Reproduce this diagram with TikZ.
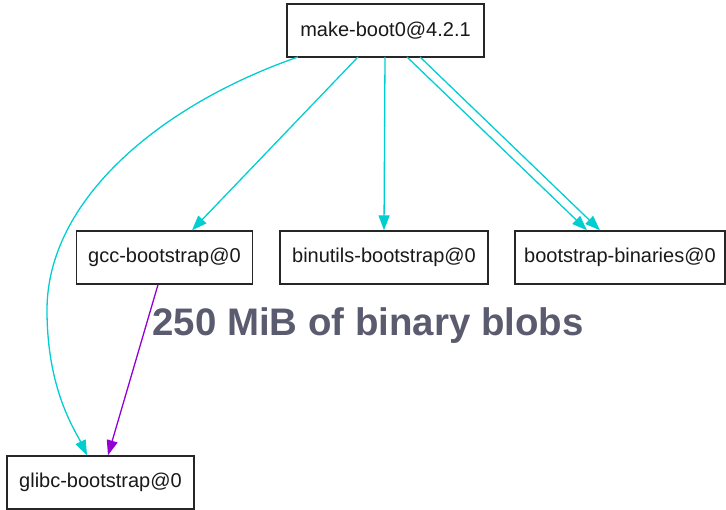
\documentclass[tikz,border=0pt]{standalone}
\usepackage{fontspec}
\setmainfont{Liberation Sans}
\usetikzlibrary{arrows.meta}
\definecolor{edgecyan}{HTML}{00CED1}
\definecolor{edgeviolet}{HTML}{9400D3}
\definecolor{blobgray}{HTML}{5A5B6E}
\tikzset{
  pkg/.style={draw=black!85, line width=1.4pt, fill=white, inner sep=0pt, font=\fontsize{20}{24}\selectfont, text=black!90},
  dep/.style={draw=edgecyan, line width=1.3pt, -{Triangle[length=15pt,width=11pt]}},
  dep2/.style={draw=edgeviolet, line width=1.3pt, -{Triangle[length=15pt,width=11pt]}},
}
\begin{document}
\begin{tikzpicture}[x=1pt,y=-1pt]
\useasboundingbox (0,0) rectangle (726,510);
\node[pkg, minimum width=197pt, minimum height=53pt] (make) at (385.5,30.5) {make-boot0@4.2.1};
\node[pkg, minimum width=176pt, minimum height=53pt] (gcc) at (164.5,257.5) {gcc-bootstrap@0};
\node[pkg, minimum width=208pt, minimum height=53pt] (binu) at (384,257.5) {binutils-bootstrap@0};
\node[pkg, minimum width=210pt, minimum height=53pt] (bbin) at (620,257.5) {bootstrap-binaries@0};
\node[pkg, minimum width=187pt, minimum height=53pt] (glibc) at (100.5,482.5) {glibc-bootstrap@0};
\node[font=\bfseries\fontsize{38.4}{44}\selectfont, text=blobgray] (blobs) at (368,326) {250 MiB of binary blobs};
\coordinate (m1) at (298,57);
\coordinate (m2) at (358,57);
\coordinate (m3) at (385,57);
\coordinate (m4) at (407,57);
\coordinate (m5) at (420,57);
\coordinate (c1) at (47,310);
\draw[dep] (m1) .. controls (160,105) and (47,200) .. (c1) .. controls (47,390) and (75,430) .. (glibc.north -| 87,0);
\draw[dep] (m2) -- (gcc.north -| 192,0);
\draw[dep] (m3) -- (binu.north -| 384,0);
\draw[dep] (m4) -- (bbin.north -| 587,0);
\draw[dep] (m5) -- (bbin.north -| 600,0);
\draw[dep2] (gcc.south -| 158,0) -- (glibc.north -| 108,0);
\end{tikzpicture}
\end{document}
